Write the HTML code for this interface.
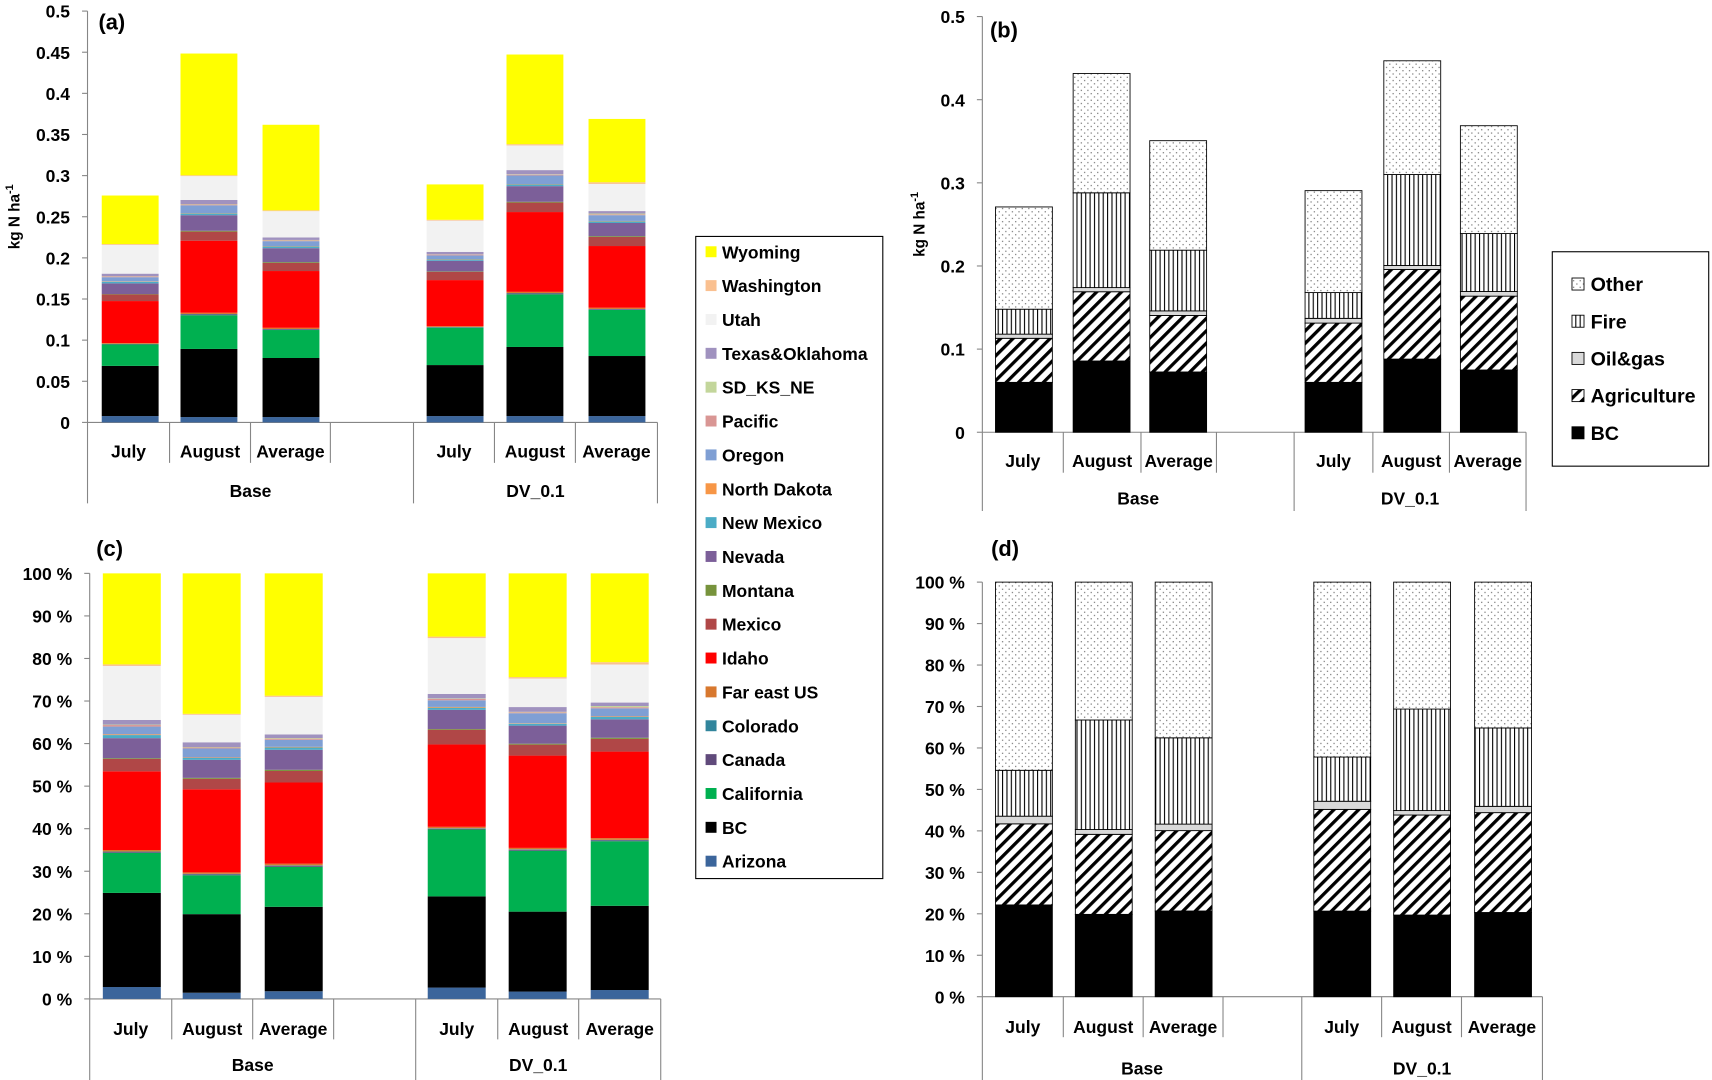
<!DOCTYPE html>
<html><head><meta charset="utf-8"><style>
html,body{margin:0;padding:0;background:#fff;}
svg{display:block;font-family:"Liberation Sans",sans-serif;font-weight:bold;}
</style></head><body>
<svg id="fig" width="1712" height="1080" viewBox="0 0 1565 987" xmlns="http://www.w3.org/2000/svg">
<defs>
<pattern id="pDots" width="6" height="6" patternUnits="userSpaceOnUse"><rect width="6" height="6" fill="#fff"/><rect x="1" y="1" width="1" height="1" fill="#555"/><rect x="4" y="4" width="1" height="1" fill="#555"/></pattern>
<pattern id="pVert" width="4" height="4" patternUnits="userSpaceOnUse"><rect width="4" height="4" fill="#fff"/><rect x="0" y="0" width="1" height="4" fill="#000"/></pattern>
<pattern id="pDiag" width="8" height="8" patternUnits="userSpaceOnUse" patternTransform="rotate(45)"><rect width="8" height="8" fill="#fff"/><rect x="0" y="0" width="3" height="8" fill="#000"/></pattern>
</defs>
<g id="root"></g>
</svg>
<script>
// ---- Panel (a)/(c) data: states (bottom-up stacking order) ----
const states = ["Arizona","BC","California","Canada","Colorado","Far east US","Idaho","Mexico","Montana","Nevada","New Mexico","North Dakota","Oregon","Pacific","SD_KS_NE","Texas&Oklahoma","Utah","Washington","Wyoming"];
const stateColors = ["#3B659B","#000000","#00B050","#604A7B","#31859C","#D8782E","#FF0000","#B04747","#77933C","#7C5F99","#4BACC6","#F79646","#7F9FD4","#D99694","#C3D69B","#A092BF","#F2F2F2","#FAC090","#FFFF00"];
const categories = ["July","August","Average","July","August","Average"];
const groups = ["Base","DV_0.1"];
const baseJuly   = [.0077,.061,.026,.0005,.0003,.001,.051,.008,.0005,.013,.002,.0005,.005,.001,.0003,.003,.035,.001,.059];
const baseAugust = [.0065,.0828,.041,.001,.0005,.0015,.0876,.011,.001,.019,.002,.0005,.0095,.001,.0005,.005,.029,.001,.148];
const baseAverage= [.0065,.0718,.034,.0008,.0004,.0015,.069,.0098,.001,.017,.002,.0005,.006,.001,.0005,.003,.032,.001,.104];
const dvJuly     = [.0077,.062,.0455,.0005,.0003,.001,.056,.010,.0005,.013,.0015,.0005,.0045,.001,.0003,.003,.038,.001,.043];
const dvAugust   = [.0077,.084,.064,.001,.0005,.0015,.097,.0115,.001,.019,.002,.0005,.0105,.001,.0005,.005,.030,.0015,.109];
const dvAverage  = [.0077,.073,.056,.0008,.0004,.0015,.075,.011,.001,.016,.002,.0005,.007,.001,.001,.003,.033,.002,.077];
const stateSeries = [baseJuly,baseAugust,baseAverage,dvJuly,dvAugust,dvAverage];
// ---- Panel (b)/(d) data: sources ----
const sources = ["BC","Agriculture","Oil&gas","Fire","Other"];
const srcBC    = [.060,.0857,.0725,.060,.088,.0749];
const srcAgri  = [.053,.0833,.068,.0713,.1078,.0888];
const srcOil   = [.005,.005,.0055,.0057,.0048,.0056];
const srcFire  = [.030,.114,.073,.031,.1094,.0697];
const srcOther = [.123,.1435,.1317,.1226,.1368,.1297];
const srcFills = ["#000000","url(#pDiag)","#D9D9D9","url(#pVert)","url(#pDots)"];
const tickA = ["0","0.05","0.1","0.15","0.2","0.25","0.3","0.35","0.4","0.45","0.5"];
const tickB = ["0","0.1","0.2","0.3","0.4","0.5"];
const tickPct = ["0 %","10 %","20 %","30 %","40 %","50 %","60 %","70 %","80 %","90 %","100 %"];

const NS="http://www.w3.org/2000/svg";
const root=document.getElementById('root');
function mk(tag,attrs,parent,text){const e=document.createElementNS(NS,tag);for(const k in attrs)e.setAttribute(k,attrs[k]);if(text!==undefined)e.textContent=text;(parent||root).appendChild(e);return e;}

function panel(p){
  const g=mk('g',{});
  
  
  const y=v=>p.y0-(v/p.vmax)*(p.y0-p.y1);
  mk('line',{x1:p.ax,y1:p.y1,x2:p.ax,y2:p.y0,stroke:'#868686','stroke-width':1},g);
  p.ticks.forEach((t,i)=>{
    const v=p.vmax*i/(p.ticks.length-1);
    mk('line',{x1:p.ax-5,y1:y(v),x2:p.ax,y2:y(v),stroke:'#868686'},g);
    const tx=mk('text',{x:p.ax-16,y:y(v)+6,'text-anchor':'end','font-size':16},g,t);
    
    
  });
  mk('line',{x1:p.ax,y1:p.y0,x2:p.ticksX[7],y2:p.y0,stroke:'#868686'},g);
  p.ticksX.forEach((x,i)=>{
    const long=(i===0||i===4||i===7);
    mk('line',{x1:x,y1:p.y0,x2:x,y2:long?p.yb:p.y0+37,stroke:'#868686'},g);
  });
  p.series.forEach((vals,bi)=>{
    const tot=vals.reduce((a,b)=>a+b,0);
    let acc=0;
    vals.forEach((v,si)=>{
      const vv=p.pct?v/tot*100:v;
      const r=mk('rect',{x:p.bx[bi],y:y(acc+vv),width:p.bw,height:Math.max(0,y(acc)-y(acc+vv)),fill:p.fills[si],stroke:p.stroke||'none','stroke-width':p.stroke?0.8:0},g);
      
      
      acc+=vv;
    });
    const cx=(p.ticksX[bi<3?bi:bi+1]+p.ticksX[bi<3?bi+1:bi+2])/2;
    const lt=mk('text',{x:cx,y:p.yl,'text-anchor':'middle','font-size':16},g,categories[bi]);
    
    
  });
  groups.forEach((gn,i)=>{
    const cx=i===0?(p.ticksX[0]+p.ticksX[4])/2:(p.ticksX[4]+p.ticksX[7])/2;
    const t=mk('text',{x:cx,y:p.yg,'text-anchor':'middle','font-size':16},g,gn);
    
    
  });
  const pt=mk('text',{x:p.tagx,y:p.tagy,'font-size':20},g,p.tag);
  
  
  if(p.ylabel){
    const yt=mk('text',{transform:`translate(${p.ylx},${(p.y0+p.y1)/2}) rotate(-90)`,'text-anchor':'middle','font-size':14},g);
    
    
    yt.innerHTML='kg N  ha<tspan dy="-6" font-size="10">-1</tspan>';
  }
}

const transpose=arrs=>arrs[0].map((_,i)=>arrs.map(a=>a[i]));
const srcSeries=transpose([srcBC,srcAgri,srcOil,srcFire,srcOther]);

panel({name:'panel-a-chart',tag:'(a)',tagx:90,tagy:27,ax:80,y0:386,y1:10,vmax:0.5,ticks:tickA,ticksX:[80,155,229,302,378,452,526,601],
  bx:[93,165,240,390,463,538],bw:52,series:stateSeries,fills:stateColors,labels:states,yl:418,yg:454,yb:460,ylabel:true,ylx:18});
panel({name:'panel-c-chart',tag:'(c)',tagx:88,tagy:508,ax:82,y0:913,y1:524,vmax:100,pct:true,ticks:tickPct,ticksX:[82,157,231,305,380,455,529,604],
  bx:[94,167,242,391,465,540],bw:53,series:stateSeries,fills:stateColors,labels:states,yl:946,yg:979,yb:988});
panel({name:'panel-b-chart',tag:'(b)',tagx:905,tagy:34,ax:898,y0:395,y1:15,vmax:0.5,ticks:tickB,ticksX:[898,972,1043,1112,1183,1255,1325,1395],
  bx:[910,981,1051,1193,1265,1335],bw:52,series:srcSeries,fills:srcFills,labels:sources,stroke:'#000',yl:427,yg:461,yb:467,ylabel:true,ylx:845});
panel({name:'panel-d-chart',tag:'(d)',tagx:906,tagy:508,ax:898,y0:911,y1:532,vmax:100,pct:true,ticks:tickPct,ticksX:[898,972,1045,1118,1190,1263,1336,1410],
  bx:[910,983,1056,1201,1274,1348],bw:52,series:srcSeries,fills:srcFills,labels:sources,stroke:'#000',yl:944,yg:982,yb:988});

const la=mk('g',{});


mk('rect',{x:636,y:216,width:171,height:587,fill:'#fff',stroke:'#000','stroke-width':1},la);
for(let i=states.length-1,k=0;i>=0;i--,k++){
  const yy=231+k*30.95;
  const s=mk('rect',{x:645,y:yy-6,width:10,height:10,fill:stateColors[i]},la);
  
  
  const t=mk('text',{x:660,y:yy+5,'font-size':16},la,states[i]);
  
  
}
const lb=mk('g',{});


mk('rect',{x:1419,y:230,width:143,height:196,fill:'#fff',stroke:'#000','stroke-width':1},lb);
for(let i=sources.length-1,k=0;i>=0;i--,k++){
  const yy=260+k*34;
  const s=mk('rect',{x:1437,y:yy-6,width:11,height:11,fill:srcFills[i],stroke:'#000','stroke-width':0.8},lb);
  
  
  const t=mk('text',{x:1454,y:yy+6,'font-size':18},lb,sources[i]);
  
  
}
</script>
</body></html>
